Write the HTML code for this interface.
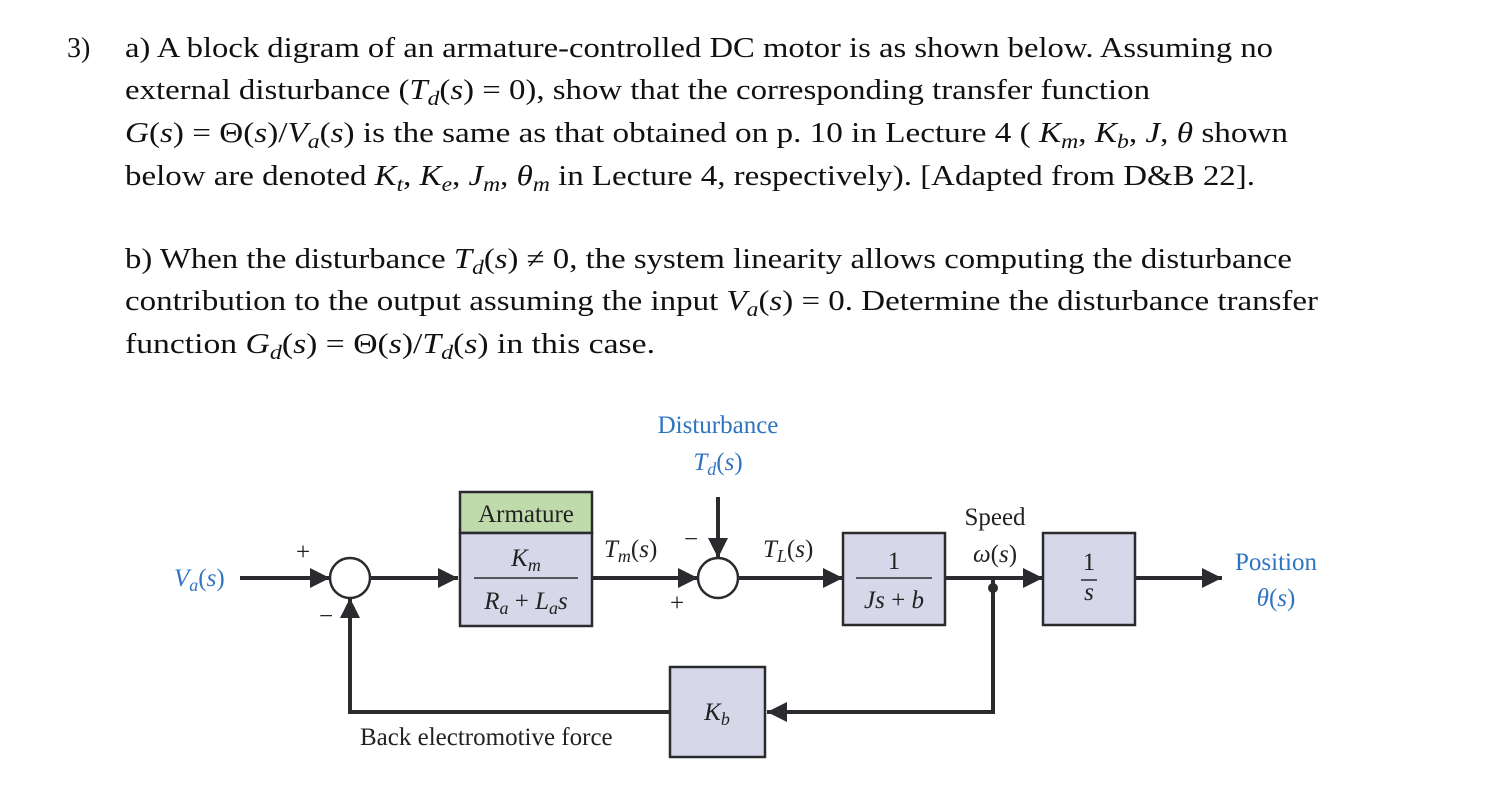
<!DOCTYPE html>
<html><head><meta charset="utf-8"><style>
html,body{margin:0;padding:0;background:#fff;}
svg{display:block;font-family:"Liberation Serif",serif;}
.t{font-size:28px;fill:#111;}
.d{font-size:25px;fill:#222;}
.b{fill:#2f74c0;}
.i{font-style:italic;}
</style></head><body>
<svg width="1494" height="796" viewBox="0 0 1494 796" xmlns="http://www.w3.org/2000/svg">
<defs><marker id="ah" markerWidth="10" markerHeight="10" refX="9" refY="5" orient="auto" markerUnits="userSpaceOnUse"><path d="M0,0 L10,5 L0,10 Z" fill="#2b2b2f"/></marker>
<marker id="a2" viewBox="0 0 10 10" markerWidth="22" markerHeight="20" refX="10" refY="5" orient="auto" markerUnits="userSpaceOnUse"><path d="M0,0 L10,5 L0,10 Z" fill="#2b2b2f"/></marker></defs>
<g class="t">
<text x="67" y="57">3)</text>
<text x="125" y="57" textLength="1148" lengthAdjust="spacingAndGlyphs">a) A block digram of an armature-controlled DC motor is as shown below.  Assuming no</text>
<text x="125" y="99" textLength="1025" lengthAdjust="spacingAndGlyphs">external disturbance (<tspan class="i">T</tspan><tspan class="i" font-size="20" dy="6">d</tspan><tspan dy="-6">(</tspan><tspan class="i">s</tspan>) = 0), show that the corresponding transfer function</text>
<text x="125" y="142" textLength="1163" lengthAdjust="spacingAndGlyphs"><tspan class="i">G</tspan>(<tspan class="i">s</tspan>) = Θ(<tspan class="i">s</tspan>)/<tspan class="i">V</tspan><tspan class="i" font-size="20" dy="6">a</tspan><tspan dy="-6">(</tspan><tspan class="i">s</tspan>) is the same as that obtained on p. 10 in Lecture 4 ( <tspan class="i">K</tspan><tspan class="i" font-size="20" dy="6">m</tspan><tspan dy="-6">, </tspan><tspan class="i">K</tspan><tspan class="i" font-size="20" dy="6">b</tspan><tspan dy="-6">, </tspan><tspan class="i">J</tspan>, <tspan class="i">θ</tspan> shown</text>
<text x="125" y="185" textLength="1130" lengthAdjust="spacingAndGlyphs">below are denoted <tspan class="i">K</tspan><tspan class="i" font-size="20" dy="6">t</tspan><tspan dy="-6">, </tspan><tspan class="i">K</tspan><tspan class="i" font-size="20" dy="6">e</tspan><tspan dy="-6">, </tspan><tspan class="i">J</tspan><tspan class="i" font-size="20" dy="6">m</tspan><tspan dy="-6">, </tspan><tspan class="i">θ</tspan><tspan class="i" font-size="20" dy="6">m</tspan><tspan dy="-6"> in Lecture 4, respectively). [Adapted from D&amp;B 22].</tspan></text>
<text x="125" y="268" textLength="1167" lengthAdjust="spacingAndGlyphs">b) When the disturbance <tspan class="i">T</tspan><tspan class="i" font-size="20" dy="6">d</tspan><tspan dy="-6">(</tspan><tspan class="i">s</tspan>) ≠ 0, the system linearity allows computing the disturbance</text>
<text x="125" y="310" textLength="1193" lengthAdjust="spacingAndGlyphs">contribution to the output assuming the input <tspan class="i">V</tspan><tspan class="i" font-size="20" dy="6">a</tspan><tspan dy="-6">(</tspan><tspan class="i">s</tspan>) = 0.  Determine the disturbance transfer</text>
<text x="125" y="353" textLength="530" lengthAdjust="spacingAndGlyphs">function <tspan class="i">G</tspan><tspan class="i" font-size="20" dy="6">d</tspan><tspan dy="-6">(</tspan><tspan class="i">s</tspan>) = Θ(<tspan class="i">s</tspan>)/<tspan class="i">T</tspan><tspan class="i" font-size="20" dy="6">d</tspan><tspan dy="-6">(</tspan><tspan class="i">s</tspan>) in this case.</text>
</g>
<g stroke="#2b2b2f" stroke-width="4" fill="none">
<line x1="240" y1="578" x2="330" y2="578" marker-end="url(#a2)"/>
<line x1="370" y1="578" x2="458" y2="578" marker-end="url(#a2)"/>
<line x1="592" y1="578" x2="698" y2="578" marker-end="url(#a2)"/>
<line x1="718" y1="497" x2="718" y2="558" marker-end="url(#a2)"/>
<line x1="738" y1="578" x2="843" y2="578" marker-end="url(#a2)"/>
<line x1="945" y1="578" x2="1043" y2="578" marker-end="url(#a2)"/>
<line x1="1135" y1="578" x2="1222" y2="578" marker-end="url(#a2)"/>
<polyline points="993,578 993,712 767,712" marker-end="url(#a2)"/>
<polyline points="670,712 350,712 350,598" marker-end="url(#a2)"/>
</g>
<circle cx="993" cy="588" r="5" fill="#2b2b2f"/>
<g stroke="#2b2b2f" stroke-width="2.5">
<circle cx="350" cy="578" r="20" fill="#fff"/>
<circle cx="718" cy="578" r="20" fill="#fff"/>
<rect x="460" y="492" width="132" height="41" fill="#bfdbac"/>
<rect x="460" y="533" width="132" height="93" fill="#d6d8e9"/>
<rect x="843" y="533" width="102" height="92" fill="#d6d8e9"/>
<rect x="1043" y="533" width="92" height="92" fill="#d6d8e9"/>
<rect x="670" y="667" width="95" height="90" fill="#d6d8e9"/>
</g>
<g stroke="#2b2b2f" stroke-width="1.5">
<line x1="474" y1="578" x2="578" y2="578"/>
<line x1="856" y1="578" x2="932" y2="578"/>
<line x1="1081" y1="580" x2="1097" y2="580"/>
</g>
<g class="d">
<text x="526" y="522" text-anchor="middle">Armature</text>
<text x="526" y="566" text-anchor="middle" class="i">K<tspan font-size="18" dy="5">m</tspan></text>
<text x="526" y="609" text-anchor="middle" class="i">R<tspan font-size="18" dy="5">a</tspan><tspan dy="-5" font-style="normal"> + </tspan>L<tspan font-size="18" dy="5">a</tspan><tspan dy="-5">s</tspan></text>
<text x="894" y="569" text-anchor="middle">1</text>
<text x="894" y="608" text-anchor="middle" class="i">Js<tspan font-style="normal"> + </tspan>b</text>
<text x="1089" y="570" text-anchor="middle">1</text>
<text x="1089" y="600" text-anchor="middle" class="i">s</text>
<text x="717" y="720" text-anchor="middle" class="i">K<tspan font-size="18" dy="5">b</tspan></text>
<text x="174" y="586" class="b i">V<tspan font-size="18" dy="5">a</tspan><tspan dy="-5" font-style="normal">(</tspan>s<tspan font-style="normal">)</tspan></text>
<text x="718" y="433" text-anchor="middle" class="b">Disturbance</text>
<text x="718" y="470" text-anchor="middle" class="b"><tspan class="i">T</tspan><tspan class="i" font-size="18" dy="5">d</tspan><tspan dy="-5">(</tspan><tspan class="i">s</tspan>)</text>
<text x="604" y="557"><tspan class="i">T</tspan><tspan class="i" font-size="18" dy="5">m</tspan><tspan dy="-5">(</tspan><tspan class="i">s</tspan>)</text>
<text x="763" y="557"><tspan class="i">T</tspan><tspan class="i" font-size="18" dy="5">L</tspan><tspan dy="-5">(</tspan><tspan class="i">s</tspan>)</text>
<text x="995" y="525" text-anchor="middle">Speed</text>
<text x="995" y="562" text-anchor="middle"><tspan class="i">ω</tspan>(<tspan class="i">s</tspan>)</text>
<text x="1276" y="570" text-anchor="middle" class="b">Position</text>
<text x="1276" y="606" text-anchor="middle" class="b"><tspan class="i">θ</tspan>(<tspan class="i">s</tspan>)</text>
<text x="360" y="745">Back electromotive force</text>
<text x="296" y="560">+</text>
<text x="319" y="624">−</text>
<text x="684" y="547">−</text>
<text x="670" y="611">+</text>
</g>
</svg>
</body></html>
